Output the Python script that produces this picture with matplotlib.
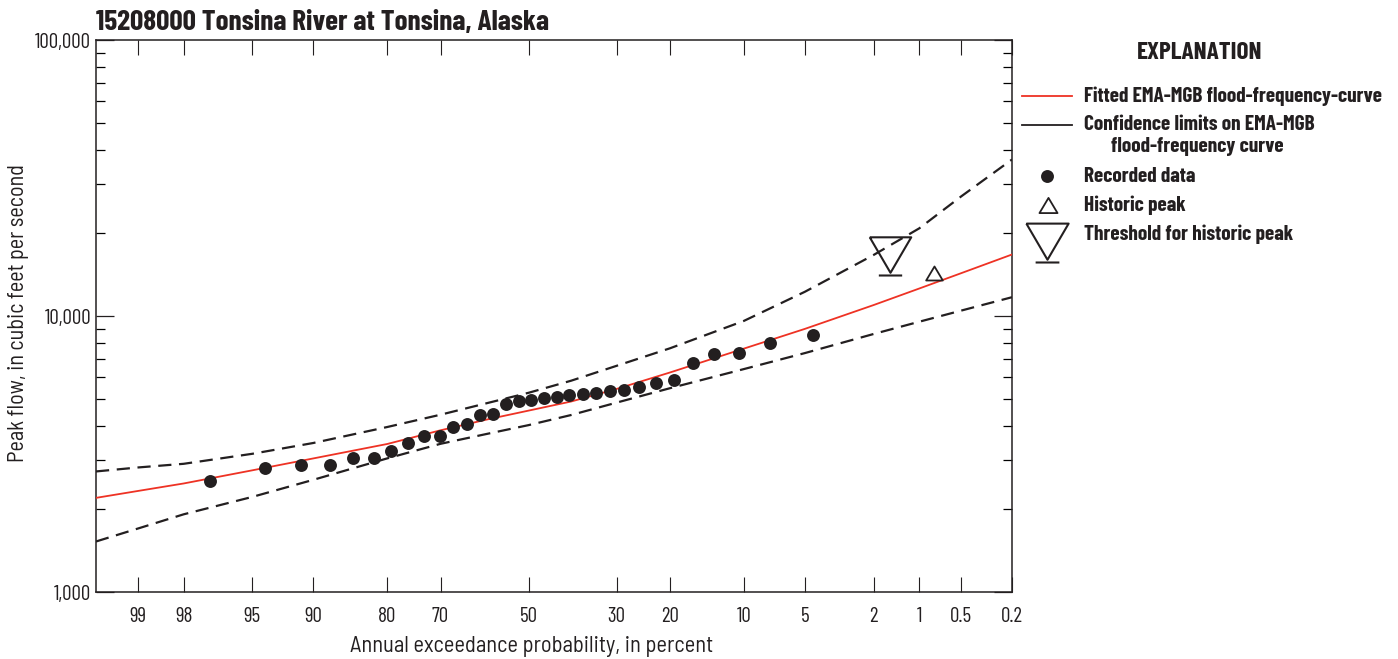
import numpy as np
import matplotlib
matplotlib.use('Agg')
import matplotlib.pyplot as plt
from matplotlib.path import Path
from matplotlib import font_manager
from statistics import NormalDist

# fitted curve and confidence limits, read at these exceedance probabilities (percent)
curve_aep = [99.5, 99, 98, 95, 90, 80, 70, 60, 50, 40, 30, 20, 10, 5, 2, 1, 0.5, 0.2]
fitted_q = [2193, 2323, 2473, 2760, 3048, 3438, 3854, 4210, 4542, 4900, 5443,
            6242, 7618, 8981, 10954, 12580, 14296, 16705]
upper_q = [2734, 2826, 2914, 3168, 3467, 3961, 4389, 4824, 5270, 5829, 6601,
           7638, 9598, 12239, 16634, 20786, 27128, 36898]
lower_q = [1524, 1698, 1912, 2211, 2550, 3049, 3443, 3734, 4024, 4378, 4856,
           5475, 6422, 7339, 8605, 9535, 10462, 11698]

# recorded annual peaks
recorded_aep = [97.1, 94.2, 91.2, 88.2, 85.2, 82.2, 79.3, 76.3, 73.3, 70.2,
                67.3, 64.4, 61.3, 58.4, 55.3, 52.4, 49.4, 46.4, 43.4, 40.4,
                37.4, 34.5, 31.4, 28.5, 25.5, 22.4, 19.4, 16.4, 13.5, 10.5, 7.5, 4.5]
recorded_q = [2530, 2806, 2877, 2884, 3051, 3059, 3235, 3458, 3664, 3672,
              3945, 4055, 4386, 4422, 4800, 4921, 4970, 5058, 5088, 5173,
              5204, 5273, 5336, 5406, 5531, 5718, 5848, 6773, 7302, 7327, 7962, 8552]

historic_aep = [0.79]
historic_q = [14300]
threshold_aep = [1.57]
threshold_q = [14080]

x_ticks = [99, 98, 95, 90, 80, 70, 50, 30, 20, 10, 5, 2, 1, 0.5, 0.2]
x_ticklabels = ['99', '98', '95', '90', '80', '70', '50', '30', '20', '10', '5', '2', '1', '0.5', '0.2']
y_ticks = [1000, 10000, 100000]
y_ticklabels = ['1,000', '10,000', '100,000']

RED = '#ee3224'
INK = '#231f20'

names = {f.name for f in font_manager.fontManager.ttflist}


def pick(*cands):
    return next((c for c in cands if c in names), 'DejaVu Sans')


cond = pick('Barlow Condensed', 'Asap Condensed')
semi = pick('Barlow Semi Condensed', 'Barlow', 'Roboto')
plt.rcParams['font.family'] = [cond, 'DejaVu Sans']
plt.rcParams['lines.scale_dashes'] = False

nd = NormalDist()
_z = np.vectorize(lambda v: nd.inv_cdf(v / 100.0), otypes=[float])
_p = np.vectorize(lambda v: 100.0 * nd.cdf(v), otypes=[float])


def _fwd(p):
    p = np.clip(np.asarray(p, dtype=float), 1e-6, 100 - 1e-6)
    return _z(p)


def _inv(z):
    return _p(np.asarray(z, dtype=float))


# threshold symbol: open inverted triangle with a bar under its tip
thr_marker = Path([(-20.8, 38.3), (20.8, 38.3), (0, 2.7), (-20.8, 38.3),
                   (-11.7, 0), (11.7, 0)],
                  [Path.MOVETO, Path.LINETO, Path.LINETO, Path.LINETO,
                   Path.MOVETO, Path.LINETO])
tri_marker = Path([(-1, -0.84), (1, -0.84), (0, 0.84), (-1, -0.84)],
                  [Path.MOVETO, Path.LINETO, Path.LINETO, Path.CLOSEPOLY])

W, H = 1398, 659
fig = plt.figure(figsize=(W / 100, H / 100), dpi=100)
ax = fig.add_axes([96 / W, 1 - 592 / H, 916 / W, 552 / H])
renderer = fig.canvas.get_renderer()


def fit(t, target, vertical=False):
    # scale a text so its extent matches the reference (in pixels)
    bb = t.get_window_extent(renderer=renderer)
    size = bb.height if vertical else bb.width
    t.set_fontsize(t.get_fontsize() * target / size)
    return t.get_fontsize()


ax.set_xscale('function', functions=(_fwd, _inv))
ax.set_yscale('log')

ax.plot(curve_aep, upper_q, color=INK, lw=1.6, linestyle=(0, (9.5, 5.5)), zorder=2)
ax.plot(curve_aep, lower_q, color=INK, lw=1.6, linestyle=(0, (9.5, 5.5)), zorder=2)
ax.plot(curve_aep, fitted_q, color=RED, lw=1.3, zorder=3)
ax.plot(recorded_aep, recorded_q, 'o', color=INK, ms=9.3, mec='none', zorder=4)
ax.plot(historic_aep, historic_q, marker=tri_marker, ls='none', ms=12, mfc='white',
        mec=INK, mew=1.3, zorder=4)
ax.plot(threshold_aep, threshold_q, marker=thr_marker, ls='none', ms=55, mfc='none',
        mec=INK, mew=1.5, zorder=4)

ax.set_xlim(99.5, 0.2)
ax.set_ylim(1000, 100000)
ax.set_xticks(x_ticks)
ax.set_xticklabels(x_ticklabels)
ax.set_yticks(y_ticks)
ax.set_yticklabels(y_ticklabels)

# tick label size from the width of "10,000" in the reference
probe = fig.text(0, 0, y_ticklabels[1], fontsize=13)
tick_fs = fit(probe, 47)
probe.remove()

ax.tick_params(axis='x', which='major', direction='in', length=11, width=0.8,
               top=True, bottom=True, labelsize=tick_fs, pad=11, colors=INK)
ax.tick_params(axis='y', which='major', direction='in', length=13, width=0.9,
               left=True, right=True, labelsize=tick_fs, pad=3.5, colors=INK)
ax.tick_params(axis='y', which='minor', direction='in', length=6.5, width=0.9,
               left=True, right=True, labelleft=False)
for s in ax.spines.values():
    s.set_linewidth(1.1)
    s.set_color(INK)

xl = ax.set_xlabel('Annual exceedance probability, in percent', fontsize=14,
                   family=[semi, 'DejaVu Sans'], color=INK, va='top')
fit(xl, 362)
ax.xaxis.set_label_coords((532 - 96) / 916, (592 - 636) / 552)
yl = ax.set_ylabel('Peak flow, in cubic feet per second', fontsize=14,
                   family=[semi, 'DejaVu Sans'], color=INK, va='bottom')
fit(yl, 298, vertical=True)
ax.yaxis.set_label_coords((29 - 96) / 916, 0.5045)
tt = ax.set_title('15208000 Tonsina River at Tonsina, Alaska', loc='left', fontsize=19,
                  fontweight='bold', color=INK, pad=7)
fit(tt, 453)

# explanation box, laid out in figure pixels
lax = fig.add_axes([0, 0, 1, 1])
lax.set_xlim(0, W)
lax.set_ylim(H, 0)
lax.axis('off')
head = lax.text(1200, 53, 'EXPLANATION', ha='center', va='center', fontsize=15,
                fontweight='bold', color=INK)
fit(head, 125)
lax.plot([1022, 1072], [96, 96], color=RED, lw=1.3)
lax.plot([1022, 1072], [125, 125], color=INK, lw=1.3)
lax.plot([1047], [176], 'o', color=INK, ms=9.3, mec='none')
lax.plot([1047.5], [205], marker=tri_marker, ls='none', ms=13, mfc='white', mec=INK, mew=1.3)
lax.plot([1047], [261.7], marker=thr_marker, ls='none', ms=56, mfc='none', mec=INK, mew=1.5)
labels = [(1084, 96, 'Fitted EMA-MGB flood-frequency-curve'),
          (1084, 125, 'Confidence limits on EMA-MGB'),
          (1111, 147, 'flood-frequency curve'),
          (1084, 176, 'Recorded data'),
          (1084, 205, 'Historic peak'),
          (1084, 234, 'Threshold for historic peak')]
texts = [lax.text(x, y, t, ha='left', va='center', fontsize=14, fontweight='bold', color=INK)
         for x, y, t in labels]
leg_fs = fit(texts[0], 300)
for t in texts[1:]:
    t.set_fontsize(leg_fs)

fig.savefig('out.png', dpi=100)
